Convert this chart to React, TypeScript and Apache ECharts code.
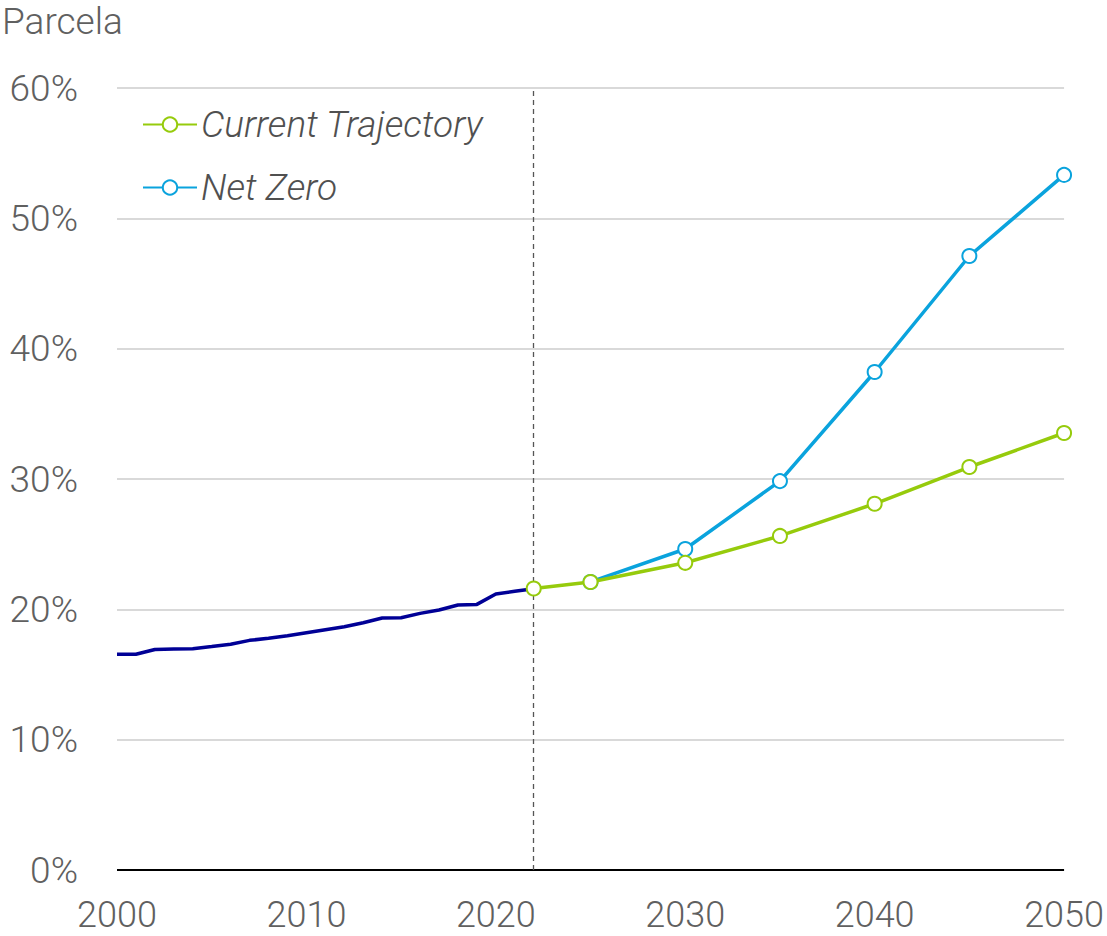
import React, { useEffect, useRef } from "react";
import * as echarts from "echarts";

const histYears = [2000, 2001, 2002, 2003, 2004, 2005, 2006, 2007, 2008, 2009, 2010, 2011, 2012, 2013, 2014, 2015, 2016, 2017, 2018, 2019, 2020, 2021, 2022];
const histValues = [16.55, 16.55, 16.92, 16.95, 16.97, 17.14, 17.32, 17.62, 17.78, 17.98, 18.21, 18.44, 18.67, 18.97, 19.33, 19.36, 19.69, 19.95, 20.33, 20.38, 21.18, 21.38, 21.58];

const ctYears = [2022, 2025, 2030, 2035, 2040, 2045, 2050];
const ctValues = [21.6, 22.1, 23.57, 25.63, 28.1, 30.92, 33.53];

const nzYears = [2025, 2030, 2035, 2040, 2045, 2050];
const nzValues = [22.1, 24.63, 29.84, 38.21, 47.11, 53.33];

const yTicks = [0, 10, 20, 30, 40, 50, 60];
const xTicks = [2000, 2010, 2020, 2030, 2040, 2050];
const cutoffYear = 2022;

const FONT = "Roboto";
const TEXT = "#606060";

export default function App() {
  const ref = useRef<HTMLDivElement>(null);
  useEffect(() => {
    const chart = echarts.init(ref.current!, null, { renderer: "svg" });
    const zip = (xs: number[], ys: number[]) => xs.map((x, i) => [x, ys[i]]);
    chart.setOption({
      animation: false,
      backgroundColor: "#ffffff",
      textStyle: { fontFamily: FONT },
      grid: { left: 117, right: 42, top: 88, bottom: 66, containLabel: false },
      graphic: [
        {
          type: "text",
          left: 2,
          top: 3,
          style: { text: "Parcela", font: `300 37px ${FONT}`, fill: TEXT },
        },
      ],
      legend: {
        data: ["Current Trajectory", "Net Zero"],
        orient: "vertical",
        left: 137,
        top: 101,
        itemGap: 26,
        itemWidth: 54,
        itemHeight: 18,
        textStyle: { fontFamily: FONT, fontSize: 37, fontStyle: "italic", fontWeight: 300, color: "#505050", padding: [0, 0, 0, -1] },
      },
      xAxis: {
        type: "value",
        min: 2000,
        max: 2050,
        interval: 10,
        axisLine: { show: false },
        axisTick: { show: false },
        splitLine: { show: false },
        axisLabel: { fontFamily: FONT, fontSize: 36, fontWeight: 300, color: TEXT, margin: 27, formatter: (v: number) => (xTicks.includes(v) ? String(v) : "") },
      },
      yAxis: {
        type: "value",
        min: 0,
        max: 60,
        interval: 10,
        axisLine: { show: false },
        axisTick: { show: false },
        splitLine: { lineStyle: { color: "#d9d9d9", width: 2 } },
        axisLabel: { fontFamily: FONT, fontSize: 37, fontWeight: 300, color: TEXT, margin: 39, formatter: (v: number) => (yTicks.includes(v) ? v + "%" : "") },
      },
      series: [
        {
          name: "Historical",
          type: "line",
          data: zip(histYears, histValues),
          showSymbol: false,
          symbol: "none",
          lineStyle: { color: "#000096", width: 3.5 },
          itemStyle: { color: "#000096" },
          z: 3,
          markLine: {
            silent: true,
            symbol: ["none", "none"],
            label: { show: false },
            lineStyle: { color: "#555555", type: [5, 4], width: 1.3 },
            data: [{ xAxis: cutoffYear }],
          },
        },
        {
          name: "Zero axis",
          type: "line",
          data: [[2000, 0], [2050, 0]],
          symbol: "none",
          lineStyle: { color: "#000000", width: 2 },
          z: 2,
        },
        {
          name: "Net Zero",
          type: "line",
          data: zip(nzYears, nzValues),
          symbol: "emptyCircle",
          symbolSize: 14,
          lineStyle: { color: "#0aa3dd", width: 3.5 },
          itemStyle: { color: "#0aa3dd", borderWidth: 4, borderColor: "#0aa3dd" },
          z: 4,
        },
        {
          name: "Current Trajectory",
          type: "line",
          data: zip(ctYears, ctValues),
          symbol: "emptyCircle",
          symbolSize: 14,
          lineStyle: { color: "#96cb0c", width: 3.5 },
          itemStyle: { color: "#96cb0c", borderWidth: 4, borderColor: "#96cb0c" },
          z: 5,
        },
      ],
    });
    return () => chart.dispose();
  }, []);
  return <div ref={ref} style={{ width: 1107, height: 936, position: "absolute", left: 0, top: 0 }} />;
}
